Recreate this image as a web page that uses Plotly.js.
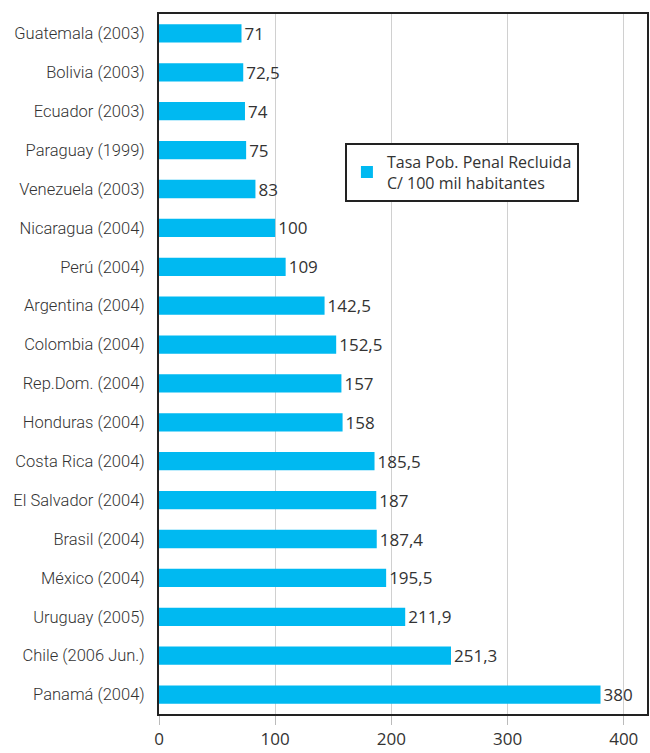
<!DOCTYPE html>
<html>
<head>
<meta charset="utf-8">
<script src="https://cdn.plot.ly/plotly-3.0.1.min.js"></script>
<style>html,body{margin:0;padding:0;background:#fff;}#chart{width:650px;height:753px;}</style>
</head>
<body>
<div id="chart"></div>
<script>
const countries = ["Guatemala (2003)","Bolivia (2003)","Ecuador (2003)","Paraguay (1999)","Venezuela (2003)","Nicaragua (2004)","Perú (2004)","Argentina (2004)","Colombia (2004)","Rep.Dom. (2004)","Honduras (2004)","Costa Rica (2004)","El Salvador (2004)","Brasil (2004)","México (2004)","Uruguay (2005)","Chile (2006 Jun.)","Panamá (2004)"];
const rates = [71,72.5,74,75,83,100,109,142.5,152.5,157,158,185.5,187,187.4,195.5,211.9,251.3,380];
const seriesName = "Tasa Pob. Penal Recluida<br>C/ 100 mil habitantes";
const xTicks = [0,100,200,300,400];

const labels = rates.map(v => String(v).replace('.', ','));

const trace = {
  type: 'bar',
  orientation: 'h',
  y: countries,
  x: rates,
  name: seriesName,
  text: labels,
  textposition: 'outside',
  constraintext: 'none',
  cliponaxis: false,
  textfont: {family: 'Open Sans, sans-serif', size: 17, color: '#333'},
  marker: {color: '#00B9F1'},
  width: 0.47,
  showlegend: true
};

const layout = {
  width: 650, height: 753,
  margin: {l: 159, r: 3, t: 14, b: 39},
  paper_bgcolor: '#fff', plot_bgcolor: '#fff',
  showlegend: true,
  legend: {
    x: 0.381, y: 0.816, xanchor: 'left', yanchor: 'top',
    bgcolor: '#fff', bordercolor: '#222', borderwidth: 2,
    font: {family: 'Open Sans, sans-serif', size: 16, color: '#333'},
    itemwidth: 30
  },
  xaxis: {
    range: [0, 420],
    tickvals: xTicks,
    ticktext: xTicks.map(String),
    showgrid: true, gridcolor: '#d0d0d0', gridwidth: 1,
    zeroline: false,
    showline: true, linecolor: '#222', linewidth: 2, mirror: true,
    ticks: 'outside', ticklen: 9, tickcolor: '#bbb',
    tickfont: {family: 'Open Sans, sans-serif', size: 17, color: '#333'}
  },
  yaxis: {
    type: 'category',
    autorange: 'reversed',
    showgrid: false,
    showline: true, linecolor: '#222', linewidth: 2, mirror: true,
    ticks: '', ticklabelstandoff: 9,
    tickfont: {family: 'Roboto, sans-serif', size: 16.5, weight: 300, color: '#333'}
  }
};

Plotly.newPlot('chart', [trace], layout, {displayModeBar: false, staticPlot: true});
</script>
</body>
</html>
